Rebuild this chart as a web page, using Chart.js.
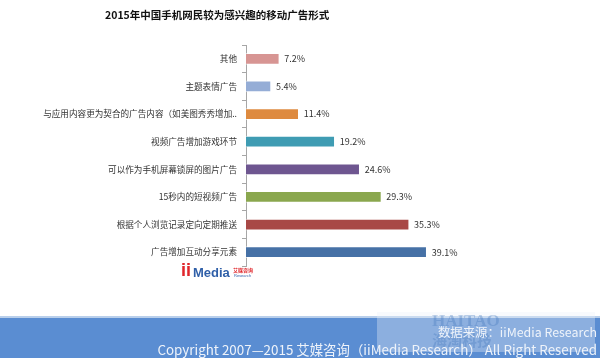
<!DOCTYPE html>
<html>
<head>
<meta charset="utf-8">
<script src="https://cdn.jsdelivr.net/npm/chart.js@4"></script>
<style>
  html, body { margin: 0; padding: 0; background: #fff; }
  #wrap { width: 600px; height: 358px; position: relative; }
</style>
</head>
<body>
<div id="wrap"><canvas id="chart" width="600" height="358"></canvas></div>
<script>
const categories = [
  "其他",
  "主题表情广告",
  "与应用内容更为契合的广告内容（如美图秀秀增加..",
  "视频广告增加游戏环节",
  "可以作为手机屏幕锁屏的图片广告",
  "15秒内的短视频广告",
  "根据个人浏览记录定向定期推送",
  "广告增加互动分享元素",
];
const values = [7.2, 5.4, 11.4, 19.2, 24.6, 29.3, 35.3, 39.1];
const barColors = ["#D79593", "#95ADD6", "#DE8A3F", "#3F9CB3", "#6E5690", "#8AA74E", "#A84846", "#4671A6"];
const titleText = "2015年中国手机网民较为感兴趣的移动广告形式";
const sourceText = "数据来源：iiMedia Research";
const copyrightText = "Copyright 2007—2015 艾媒咨询（iiMedia Research） All Right Reserved";

const cjk = '"Noto Sans CJK SC", "Noto Sans", sans-serif';

// value labels at the end of each bar
const valueLabels = {
  id: "valueLabels",
  afterDatasetsDraw(chart) {
    const ctx = chart.ctx;
    const meta = chart.getDatasetMeta(0);
    ctx.save();
    ctx.font = "9px " + cjk;
    ctx.fillStyle = "#333";
    ctx.textBaseline = "middle";
    meta.data.forEach((bar, i) => {
      ctx.fillText(values[i].toFixed(1) + "%", bar.x + 5, bar.y);
    });
    ctx.restore();
  },
};

// title, logo and footer band
const decorations = {
  id: "decorations",
  beforeDraw(chart) {
    const ctx = chart.ctx;
    ctx.save();
    ctx.fillStyle = "#fff";
    ctx.fillRect(0, 0, 600, 358);
    ctx.restore();
  },
  afterDraw(chart) {
    const ctx = chart.ctx;
    ctx.save();
    // title
    ctx.font = "bold 10.5px " + cjk;
    ctx.fillStyle = "#111";
    ctx.textBaseline = "middle";
    ctx.textAlign = "left";
    ctx.fillText(titleText, 105, 15);

    // logo
    ctx.font = "bold 18px Arial, sans-serif";
    ctx.fillStyle = "#E0262B";
    ctx.fillText("ii", 181, 271);
    ctx.font = "bold 13px Arial, sans-serif";
    ctx.fillStyle = "#2F5FA8";
    ctx.fillText("Media", 193, 273);
    ctx.font = "bold 5px " + cjk;
    ctx.fillStyle = "#E0262B";
    ctx.fillText("艾媒咨询", 233, 270);
    ctx.font = "4px Arial, sans-serif";
    ctx.fillStyle = "#2F5FA8";
    ctx.fillText("Research", 234, 276);

    // footer band
    ctx.fillStyle = "#B9CFEB";
    ctx.fillRect(0, 316, 600, 2);
    ctx.fillStyle = "#5A8DD2";
    ctx.fillRect(0, 318, 600, 40);

    // faint watermark box
    ctx.fillStyle = "rgba(235,240,248,0.35)";
    ctx.fillRect(377, 312, 218, 40);
    ctx.font = "bold 17px 'Liberation Serif', serif";
    ctx.fillStyle = "rgba(70,120,190,0.35)";
    ctx.textAlign = "left";
    ctx.fillText("HAITAO", 432, 322);
    ctx.font = "bold 15px " + cjk;
    ctx.fillText("海淘科技", 432, 340);

    // footer text
    ctx.fillStyle = "#EEF3FA";
    ctx.textAlign = "right";
    ctx.font = "12.4px " + cjk;
    ctx.fillText(sourceText, 597, 332);
    ctx.font = "13.4px " + cjk;
    ctx.fillText(copyrightText, 597, 350);
    ctx.restore();
  },
};

new Chart(document.getElementById("chart"), {
  type: "bar",
  data: {
    labels: categories,
    datasets: [
      {
        data: values,
        backgroundColor: barColors,
        borderColor: "rgba(255,255,255,0.6)",
        borderWidth: 1,
        barThickness: 11,
      },
    ],
  },
  options: {
    indexAxis: "y",
    responsive: false,
    animation: false,
    devicePixelRatio: 1,
    layout: {
      padding: { left: 0, right: 123, top: 45, bottom: 92 },
    },
    plugins: {
      legend: { display: false },
      tooltip: { enabled: false },
    },
    scales: {
      x: {
        display: false,
        min: 0,
        max: 50,
      },
      y: {
        afterFit(scale) {
          scale.width = 246; // keeps the axis line where the picture has it
        },
        grid: {
          drawOnChartArea: false,
          offset: true,
          tickLength: 4,
          color: "#A6A6A6",
        },
        border: { display: true, color: "#A6A6A6", width: 1 },
        ticks: {
          padding: 5,
          color: "#333",
          font: { size: 8.6, family: cjk },
        },
      },
    },
  },
  plugins: [decorations, valueLabels],
});
</script>
</body>
</html>
